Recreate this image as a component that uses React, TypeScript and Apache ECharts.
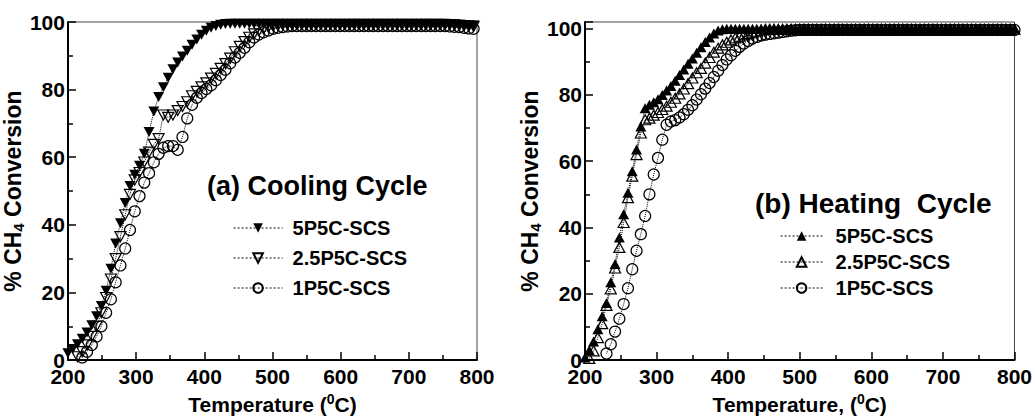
import React, { useEffect, useRef } from "react";
import * as echarts from "echarts";

const FONT = '"Liberation Sans", Arial, Helvetica, sans-serif';

// Cooling cycle (panel a)
const coolTemps = [
  200, 207, 214, 221, 228, 235, 242, 249, 256, 263,
  270, 277, 284, 291, 298, 305, 312, 319, 326, 333,
  340, 347, 354, 361, 368, 375, 382, 389, 396, 403,
  410, 417, 424, 431, 438, 445, 452, 459, 466, 473,
  480, 487, 494, 501, 508, 515, 522, 529, 536, 543,
  550, 557, 564, 571, 578, 585, 592, 599, 606, 613,
  620, 627, 634, 641, 648, 655, 662, 669, 676, 683,
  690, 697, 704, 711, 718, 725, 732, 739, 746, 753,
  760, 767, 774, 781, 788, 795,
];
const cool5 = [
  2, 3.3, 4.7, 6.3, 8.2, 10.3, 13, 16, 20.5, 27,
  34.5, 40.5, 46.5, 51.5, 54.8, 57.5, 61, 67.5, 73.5, 77.8,
  80.7, 83.5, 86, 88, 89.8, 91.5, 93.3, 94.8, 96.2, 97.4,
  98.3, 98.8, 99.2, 99.4, 99.5, 99.5, 99.5, 99.5, 99.5, 99.5,
  99.5, 99.5, 99.5, 99.5, 99.5, 99.5, 99.5, 99.5, 99.5, 99.5,
  99.5, 99.5, 99.5, 99.5, 99.5, 99.5, 99.5, 99.5, 99.5, 99.5,
  99.5, 99.5, 99.5, 99.5, 99.5, 99.5, 99.5, 99.5, 99.5, 99.5,
  99.5, 99.5, 99.5, 99.5, 99.5, 99.5, 99.5, 99.5, 99.5, 99.5,
  99.4, 99.3, 99.2, 99.1, 99, 99,
];
const cool25 = [
  null, null, 1, 2.5, 4.5, 7, 10, 14, 18.5, 24,
  30, 36.5, 43, 49, 53.3, 55.5, 58.6, 61.5, 63.8, 65.5,
  72.5, 71.8, 72.5, 73.8, 75, 76.4, 78.2, 79.5, 80.8, 82,
  83.4, 84.8, 86.3, 87.7, 89.3, 91.2, 92.8, 94.2, 95.5, 96.5,
  97.4, 98, 98.5, 98.8, 99, 99.2, 99.2, 99.2, 99.2, 99.2,
  99.2, 99.2, 99.2, 99.2, 99.2, 99.2, 99.2, 99.2, 99.2, 99.2,
  99.2, 99.2, 99.2, 99.2, 99.2, 99.2, 99.2, 99.2, 99.2, 99.2,
  99.2, 99.2, 99.2, 99.2, 99.2, 99.2, 99.2, 99.2, 99.2, 99.2,
  99.2, 99.1, 99, 98.9, 98.8, 98.7,
];
const cool1 = [
  null, null, null, 0.8, 2.5, 4.5, 7, 10, 14, 18,
  23, 28, 33, 38.5, 44, 48.5, 52.5, 55.3, 58.5, 61,
  62.8, 63.3, 63.3, 62.2, 66, 71.5, 75.5, 77.6, 79, 80.2,
  81.3, 82.8, 84.3, 85.9, 87.8, 89.5, 90.9, 92.4, 94, 95.4,
  96.3, 97, 97.5, 98, 98.3, 98.5, 98.7, 98.8, 98.8, 98.8,
  98.8, 98.8, 98.8, 98.8, 98.8, 98.8, 98.8, 98.8, 98.8, 98.8,
  98.8, 98.8, 98.8, 98.8, 98.8, 98.8, 98.8, 98.8, 98.8, 98.8,
  98.8, 98.8, 98.8, 98.8, 98.8, 98.8, 98.8, 98.8, 98.8, 98.8,
  98.7, 98.6, 98.5, 98.3, 98.1, 98,
];

// Heating cycle (panel b)
const heatTemps = [
  200, 206, 212, 218, 224, 230, 236, 242, 248, 254,
  260, 266, 272, 278, 284, 290, 296, 302, 308, 314,
  320, 326, 332, 338, 344, 350, 356, 362, 368, 374,
  380, 386, 392, 398, 404, 410, 416, 422, 428, 434,
  440, 446, 452, 458, 464, 470, 476, 482, 488, 494,
  500, 506, 512, 518, 524, 530, 536, 542, 548, 554,
  560, 566, 572, 578, 584, 590, 596, 602, 608, 614,
  620, 626, 632, 638, 644, 650, 656, 662, 668, 674,
  680, 686, 692, 698, 704, 710, 716, 722, 728, 734,
  740, 746, 752, 758, 764, 770, 776, 782, 788, 794,
  800,
];
const heat5 = [
  0.8, 3, 5.6, 9.3, 13.2, 17.2, 23.5, 29, 37, 44,
  50.5, 57, 63.5, 70.5, 76, 77, 77.8, 78.7, 80, 81.3,
  82.7, 84.3, 86, 87.7, 89.4, 91, 92.7, 94.4, 96, 97.3,
  98.5, 99.4, 99.8, 100, 100, 100, 100, 100, 100, 100,
  100, 100, 100, 100, 100, 100, 100, 100, 100, 100,
  100, 100, 100, 100, 100, 100, 100, 100, 100, 100,
  100, 100, 100, 100, 100, 100, 100, 100, 100, 100,
  100, 100, 100, 100, 100, 100, 100, 100, 100, 100,
  100, 100, 100, 100, 100, 100, 100, 100, 100, 100,
  100, 100, 100, 100, 100, 100, 100, 100, 100, 100,
  100,
];
const heat25 = [
  null, 0.5, 2.8, 6.8, 11, 16.5, 21.5, 27.8, 34, 41.5,
  49, 55.5, 62, 68.5, 72.5, 73, 73.9, 74.7, 75.6, 76.6,
  77.8, 79, 80.3, 81.8, 83.4, 85.1, 86.7, 88, 89.6, 91.3,
  92.9, 94.1, 95.1, 95.9, 96.6, 97.2, 97.7, 98.1, 98.5, 98.9,
  99.2, 99.5, 99.8, 99.8, 99.8, 99.8, 99.8, 99.8, 99.8, 99.8,
  99.8, 99.8, 99.8, 99.8, 99.8, 99.8, 99.8, 99.8, 99.8, 99.8,
  99.8, 99.8, 99.8, 99.8, 99.8, 99.8, 99.8, 99.8, 99.8, 99.8,
  99.8, 99.8, 99.8, 99.8, 99.8, 99.8, 99.8, 99.8, 99.8, 99.8,
  99.8, 99.8, 99.8, 99.8, 99.8, 99.8, 99.8, 99.8, 99.8, 99.8,
  99.8, 99.8, 99.8, 99.8, 99.8, 99.8, 99.8, 99.8, 99.8, 99.8,
  99.8,
];
const heat1 = [
  null, null, null, null, null, 2, 4.8, 8.6, 12.5, 16.9,
  21.7, 27.4, 33, 38, 43.5, 50, 56, 61, 66.5, 71,
  72, 72.4, 73.2, 74.2, 75.5, 76.9, 78.6, 80.2, 81.9, 83.6,
  85.4, 87.3, 89, 90.7, 92, 93.3, 94.5, 95.5, 96.3, 97,
  97.5, 97.9, 98.2, 98.4, 98.6, 98.8, 99, 99.2, 99.4, 99.5,
  99.6, 99.6, 99.6, 99.6, 99.6, 99.6, 99.6, 99.6, 99.6, 99.6,
  99.6, 99.6, 99.6, 99.6, 99.6, 99.6, 99.6, 99.6, 99.6, 99.6,
  99.6, 99.6, 99.6, 99.6, 99.6, 99.6, 99.6, 99.6, 99.6, 99.6,
  99.6, 99.6, 99.6, 99.6, 99.6, 99.6, 99.6, 99.6, 99.6, 99.6,
  99.6, 99.6, 99.6, 99.6, 99.6, 99.6, 99.6, 99.6, 99.6, 99.6,
  99.6,
];

const seriesNames = ["5P5C-SCS", "2.5P5C-SCS", "1P5C-SCS"];
const panelTitles = ["(a) Cooling Cycle", "(b) Heating  Cycle"];
const yTitle = "{a|% CH}{s|4}{a| Conversion}";
const xTitles = ["{a|Temperature (}{p|0}{a|C)}", "{a|Temperature, (}{p|0}{a|C)}"];

function pairs(t: number[], v: (number | null)[]) {
  const out: number[][] = [];
  t.forEach((x, i) => {
    const y = v[i];
    if (y !== null && y !== undefined) out.push([x, y]);
  });
  return out;
}

const yRich = {
  a: { fontSize: 23, fontWeight: "bold", fontFamily: FONT, color: "#000", lineHeight: 27 },
  s: { fontSize: 15, fontWeight: "bold", fontFamily: FONT, color: "#000", lineHeight: 15, verticalAlign: "bottom" },
};
const xRich = {
  a: { fontSize: 21, fontWeight: "bold", fontFamily: FONT, color: "#000", lineHeight: 25 },
  p: { fontSize: 14, fontWeight: "bold", fontFamily: FONT, color: "#000", lineHeight: 14, verticalAlign: "top" },
};

function makeSeries(name: string, data: number[][], idx: number, symbol: string, rotate: number, filled: boolean) {
  const isCircle = symbol === "circle";
  return {
    type: "line",
    name,
    xAxisIndex: idx,
    yAxisIndex: idx,
    data,
    symbol,
    symbolSize: isCircle ? 11 : [11, 10],
    symbolRotate: rotate,
    showSymbol: true,
    showAllSymbol: true,
    lineStyle: { color: "#000", width: 1, type: "dotted" },
    itemStyle: {
      color: filled ? "#000" : "rgba(0,0,0,0)",
      borderColor: "#000",
      borderWidth: filled ? 0 : 1.2,
    },
    emphasis: { disabled: true },
    silent: true,
  };
}

const axisCommon = {
  axisLine: { show: true, onZero: false, lineStyle: { color: "#000", width: 2 } },
  axisTick: { show: true, inside: true, length: 8, lineStyle: { color: "#000", width: 1.5 } },
  minorTick: { show: true, splitNumber: 2, length: 5, lineStyle: { color: "#000", width: 1.5 } },
  splitLine: { show: false },
  minorSplitLine: { show: false },
};

export default function App() {
  const ref = useRef<HTMLDivElement>(null);
  useEffect(() => {
    if (!ref.current) return;
    const chart = echarts.init(ref.current, null, { renderer: "svg" });
    const labelStyle = { color: "#000", fontSize: 21, fontWeight: "bold", fontFamily: FONT };
    const legendText = { fontSize: 20, fontWeight: "bold", fontFamily: FONT, color: "#000" };
    const legendLine = { color: "#000", width: 1.2, type: [2, 2] };
    const option: any = {
      animation: false,
      backgroundColor: "#fff",
      grid: [
        { left: 63, top: 22, width: 414, height: 348, show: true, borderColor: "#444", borderWidth: 1 },
        { left: 585, top: 22, width: 431, height: 349, show: true, borderColor: "#444", borderWidth: 1 },
      ],
      xAxis: [0, 1].map((i) => ({
        ...axisCommon,
        gridIndex: i,
        type: "value",
        min: 200,
        max: 800,
        interval: 100,
        axisLabel: { ...labelStyle, margin: 6 },
        name: xTitles[i],
        nameLocation: "middle",
        nameGap: 25,
        nameTextStyle: { rich: xRich },
      })),
      yAxis: [0, 1].map((i) => ({
        ...axisCommon,
        gridIndex: i,
        type: "value",
        min: 0,
        max: i === 0 ? 100 : 102,
        interval: 20,
        axisLabel: { ...labelStyle, margin: 3, showMaxLabel: i === 0 },
        name: yTitle,
        nameLocation: "middle",
        nameGap: i === 0 ? 28 : 31,
        nameTextStyle: { rich: yRich },
      })),
      legend: [
        {
          orient: "vertical",
          left: 228,
          top: 213,
          itemWidth: 49,
          itemHeight: 12,
          itemGap: 10,
          selectedMode: false,
          lineStyle: legendLine,
          data: seriesNames.map((n) => "c:" + n),
          formatter: (n: string) => n.slice(2),
          textStyle: { ...legendText, padding: [0, 0, 0, 5] },
        },
        {
          orient: "vertical",
          left: 775,
          top: 221,
          itemWidth: 42,
          itemHeight: 12,
          itemGap: 6,
          selectedMode: false,
          lineStyle: legendLine,
          data: seriesNames.map((n) => "h:" + n),
          formatter: (n: string) => n.slice(2),
          textStyle: { ...legendText, padding: [0, 0, 0, 8] },
        },
      ],
      graphic: [
        {
          type: "text",
          left: 207,
          top: 172,
          style: { text: panelTitles[0], font: `bold 27px ${FONT}`, fill: "#000" },
        },
        {
          type: "text",
          left: 755,
          top: 189,
          style: { text: panelTitles[1], font: `bold 28px ${FONT}`, fill: "#000" },
        },
      ],
      series: [
        makeSeries("c:" + seriesNames[0], pairs(coolTemps, cool5), 0, "triangle", 180, true),
        makeSeries("c:" + seriesNames[1], pairs(coolTemps, cool25), 0, "triangle", 180, false),
        makeSeries("c:" + seriesNames[2], pairs(coolTemps, cool1), 0, "circle", 0, false),
        makeSeries("h:" + seriesNames[0], pairs(heatTemps, heat5), 1, "triangle", 0, true),
        makeSeries("h:" + seriesNames[1], pairs(heatTemps, heat25), 1, "triangle", 0, false),
        makeSeries("h:" + seriesNames[2], pairs(heatTemps, heat1), 1, "circle", 0, false),
      ],
    };
    chart.setOption(option);
    return () => chart.dispose();
  }, []);
  return (
    <div
      ref={ref}
      style={{ position: "fixed", left: 0, top: 0, width: 1035, height: 420, background: "#fff" }}
    />
  );
}
